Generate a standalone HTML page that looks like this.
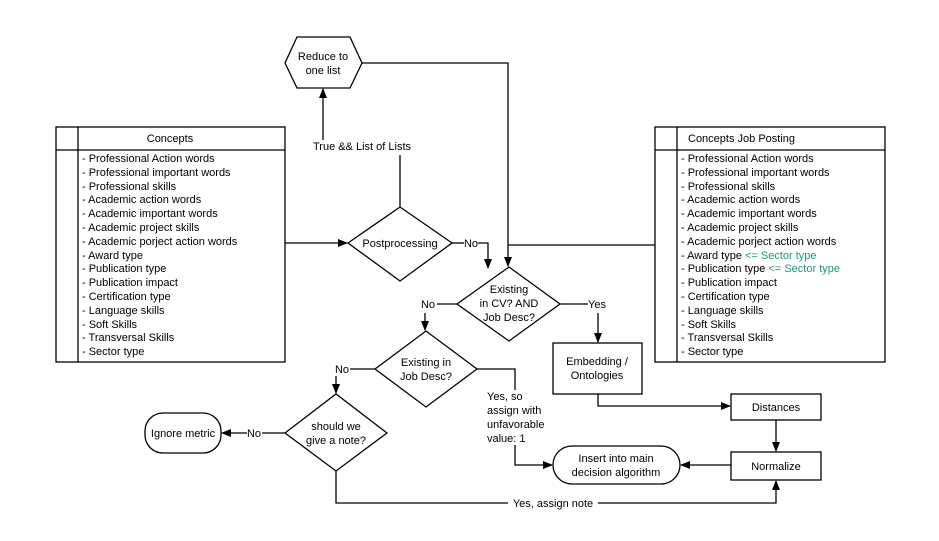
<!DOCTYPE html>
<html><head><meta charset="utf-8"><style>
html,body{margin:0;padding:0;background:#fff;}
svg{display:block;}
text{font-family:"Liberation Sans",sans-serif;font-size:11px;fill:#000;}
</style></head><body>
<svg width="939" height="541" viewBox="0 0 939 541" xmlns="http://www.w3.org/2000/svg">
<defs><marker id="a" markerWidth="10" markerHeight="8" refX="9" refY="4" orient="auto" markerUnits="userSpaceOnUse"><path d="M0,0 L10,4 L0,8 z" fill="#000"/></marker></defs>
<g fill="none" stroke="#000" stroke-width="1.3">
<!-- left table -->
<rect x="56" y="127" width="229" height="235" fill="#fff"/>
<line x1="78" y1="127" x2="78" y2="362"/>
<line x1="56" y1="150" x2="285" y2="150"/>
<!-- right table -->
<rect x="655" y="127" width="230" height="235" fill="#fff"/>
<line x1="677" y1="127" x2="677" y2="362"/>
<line x1="655" y1="150" x2="885" y2="150"/>
<!-- hexagon -->
<polygon points="285,63 297,37 350,37 362,63 350,88 297,88" fill="#fff"/>
<!-- diamonds -->
<polygon points="348,243 400,207 452,243 400,281" fill="#fff"/>
<polygon points="457,304 509,267 560,304 509,341" fill="#fff"/>
<polygon points="375,369 426,331 477,369 426,407" fill="#fff"/>
<polygon points="285,433 336,394 387,433 336,471" fill="#fff"/>
<!-- boxes -->
<rect x="553" y="343" width="89" height="51" fill="#fff"/>
<rect x="731" y="394" width="90" height="26" fill="#fff"/>
<rect x="731" y="452" width="90" height="28" fill="#fff"/>
<rect x="553" y="446" width="127" height="38" rx="19" fill="#fff"/>
<rect x="145" y="413" width="76" height="40" rx="18" fill="#fff"/>
<!-- connectors -->
<line x1="323" y1="140" x2="323" y2="89" marker-end="url(#a)"/>
<line x1="400" y1="155" x2="400" y2="207"/>
<line x1="285" y1="243" x2="347" y2="243" marker-end="url(#a)"/>
<path d="M452,243 H464"/><path d="M478,243 H488 V268" marker-end="url(#a)"/>
<path d="M362,63 H508 V266" marker-end="url(#a)"/>
<line x1="508" y1="245" x2="655" y2="245"/>
<path d="M457,304 H437"/>
<line x1="425" y1="313" x2="425" y2="330" marker-end="url(#a)"/>
<path d="M560,304 H588"/>
<line x1="598" y1="313" x2="598" y2="342" marker-end="url(#a)"/>
<path d="M375,369 H350"/>
<line x1="336" y1="376" x2="336" y2="393" marker-end="url(#a)"/>
<path d="M477,369 H515 V390"/>
<path d="M515,445 V465 H552" marker-end="url(#a)"/>
<path d="M285,433 H262"/>
<line x1="247" y1="433" x2="222" y2="433" marker-end="url(#a)"/>
<path d="M598,394 V406 H730" marker-end="url(#a)"/>
<line x1="776" y1="420" x2="776" y2="451" marker-end="url(#a)"/>
<line x1="731" y1="465" x2="681" y2="465" marker-end="url(#a)"/>
<path d="M336,471 V503 H508"/>
<path d="M598,503 H776 V481" marker-end="url(#a)"/>
</g>
<!-- labels -->
<g text-anchor="middle">
<text x="170" y="142">Concepts</text>
<text x="323" y="60">Reduce to</text><text x="323" y="74">one list</text>
<text x="362" y="150">True &amp;&amp; List of Lists</text>
<text x="400" y="247">Postprocessing</text>
<text x="471" y="247">No</text>
<text x="509" y="293">Existing</text><text x="509" y="307">in CV? AND</text><text x="509" y="321">Job Desc?</text>
<text x="428" y="308">No</text>
<text x="597" y="308">Yes</text>
<text x="426" y="366">Existing in</text><text x="426" y="380">Job Desc?</text>
<text x="342" y="373">No</text>
<text x="336" y="430">should we</text><text x="336" y="444">give a note?</text>
<text x="254" y="437">No</text>
<text x="183" y="437">Ignore metric</text>
<text x="597" y="365">Embedding /</text><text x="597" y="379">Ontologies</text>
<text x="776" y="411">Distances</text>
<text x="776" y="470">Normalize</text>
<text x="616" y="462">Insert into main</text><text x="616" y="476">decision algorithm</text>
<text x="553" y="507">Yes, assign note</text>
</g>
<text x="487" y="400">Yes, so</text><text x="487" y="414">assign with</text><text x="487" y="428">unfavorable</text><text x="487" y="442">value: 1</text>
<text x="688" y="142">Concepts Job Posting</text>
<g>
<text x="82" y="162">- Professional Action words</text>
<text x="82" y="176">- Professional important words</text>
<text x="82" y="190">- Professional skills</text>
<text x="82" y="203">- Academic action words</text>
<text x="82" y="217">- Academic important words</text>
<text x="82" y="231">- Academic project skills</text>
<text x="82" y="245">- Academic porject action words</text>
<text x="82" y="259">- Award type</text>
<text x="82" y="272">- Publication type</text>
<text x="82" y="286">- Publication impact</text>
<text x="82" y="300">- Certification type</text>
<text x="82" y="314">- Language skills</text>
<text x="82" y="328">- Soft Skills</text>
<text x="82" y="341">- Transversal Skills</text>
<text x="82" y="355">- Sector type</text>
</g>
<g>
<text x="681" y="162">- Professional Action words</text>
<text x="681" y="176">- Professional important words</text>
<text x="681" y="190">- Professional skills</text>
<text x="681" y="203">- Academic action words</text>
<text x="681" y="217">- Academic important words</text>
<text x="681" y="231">- Academic project skills</text>
<text x="681" y="245">- Academic porject action words</text>
<text x="681" y="259">- Award type <tspan style="fill:#1a9a7a">&lt;= Sector type</tspan></text>
<text x="681" y="272">- Publication type <tspan style="fill:#1a9a7a">&lt;= Sector type</tspan></text>
<text x="681" y="286">- Publication impact</text>
<text x="681" y="300">- Certification type</text>
<text x="681" y="314">- Language skills</text>
<text x="681" y="328">- Soft Skills</text>
<text x="681" y="341">- Transversal Skills</text>
<text x="681" y="355">- Sector type</text>
</g>
</svg>
</body></html>
